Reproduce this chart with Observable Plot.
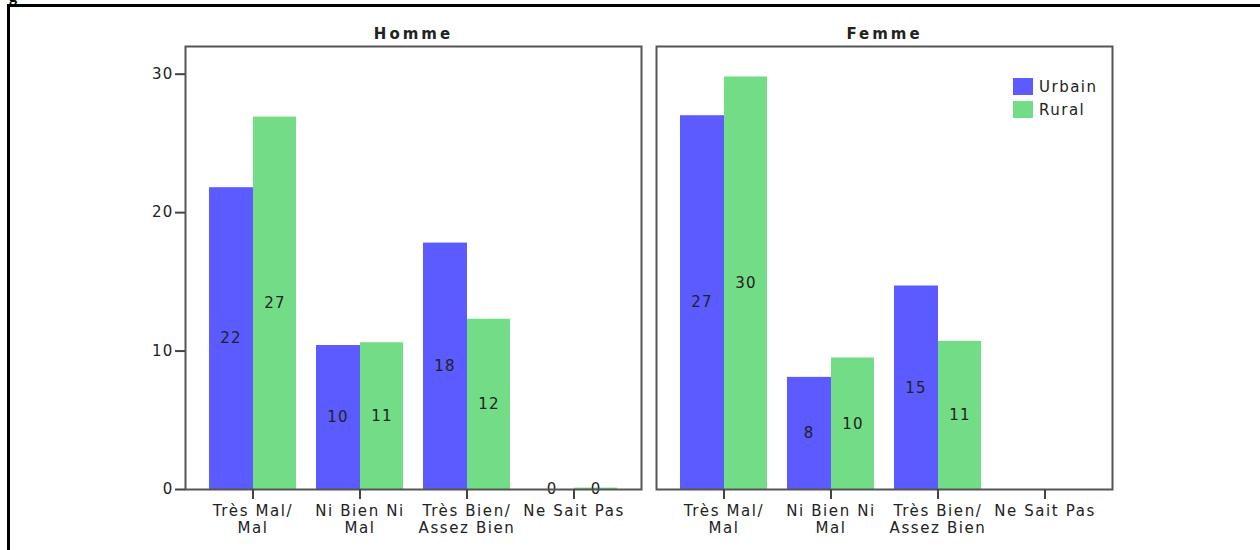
<!DOCTYPE html>
<html>
<head>
<meta charset="utf-8">
<script src="https://cdn.jsdelivr.net/npm/d3@7"></script>
<script src="https://cdn.jsdelivr.net/npm/@observablehq/plot@0.6"></script>
<style>
  html, body { margin: 0; padding: 0; background: #fff; }
  #wrap { position: relative; width: 1260px; height: 550px; overflow: hidden; font-family: "DejaVu Sans", sans-serif; }
  #docTop { position: absolute; left: 7px; top: 4px; width: 1253px; height: 0; border-top: 3px solid #000; }
  #docLeft { position: absolute; left: 7px; top: 4px; width: 0; height: 560px; border-left: 3px solid #000; }
  #gchar { position: absolute; left: 9px; top: -13px; font: bold 16px "Liberation Serif", serif; color: #000; }
  #chart { position: absolute; left: 0; top: 0; }
  #chart svg text { letter-spacing: 1.2px; }
  #chart g[aria-label="x-axis tick label"] text { letter-spacing: 1.6px; }
  #chart g[aria-label="fx-axis tick label"] text { letter-spacing: 3px; }
  #legend { position: absolute; left: 1013px; top: 75px; font: 15px "DejaVu Sans", sans-serif; color: #222; letter-spacing: 1.5px; }
  .item { display: flex; align-items: center; height: 23px; }
  .sw { width: 20px; height: 17px; margin-right: 6px; }
</style>
</head>
<body>
<div id="wrap">
  <div id="gchar">g</div>
  <div id="docTop"></div>
  <div id="docLeft"></div>
  <div id="chart"></div>
  <div id="legend"></div>
</div>
<script>
// ---- data ----
const sexes = ["Homme", "Femme"];
const areas = ["Urbain", "Rural"];
const categories = ["Très Mal/Mal", "Ni Bien Ni Mal", "Très Bien/Assez Bien", "Ne Sait Pas"];
const tickLabels = ["Très Mal/\nMal", "Ni Bien Ni\nMal", "Très Bien/\nAssez Bien", "Ne Sait Pas"];
const hommeUrbain = [21.8, 10.4, 17.8, 0];
const hommeRural  = [26.9, 10.6, 12.3, 0.1];
const femmeUrbain = [27.0, 8.1, 14.7, null];
const femmeRural  = [29.8, 9.5, 10.7, null];
const yTicks = [0, 10, 20, 30];
const colors = ["#5b5bff", "#72dd86"];

const series = {Homme: {Urbain: hommeUrbain, Rural: hommeRural}, Femme: {Urbain: femmeUrbain, Rural: femmeRural}};
const rows = [];
for (const s of sexes) for (const a of areas) categories.forEach((c, i) => {
  const v = series[s][a][i];
  if (v != null) rows.push({sex: s, area: a, cat: c, value: v});
});
const urb = rows.filter(d => d.area === "Urbain");
const rur = rows.filter(d => d.area === "Rural");
const half = 22;

const plot = Plot.plot({
  width: 1260,
  height: 550,
  marginTop: 46,
  marginBottom: 61,
  marginLeft: 185,
  marginRight: 148,
  style: {fontFamily: "DejaVu Sans, sans-serif", fontSize: "14px", color: "#222", background: "transparent"},
  fx: {domain: sexes, paddingInner: 0.032, paddingOuter: 0, label: null},
  x: {domain: categories, paddingInner: 0.185, paddingOuter: 0.204, label: null},
  y: {domain: [0, 32], label: null},
  color: {domain: areas, range: colors},
  marks: [
    Plot.barY(urb, {fx: "sex", x: "cat", y: "value", fill: "area", insetRight: half * 2 - 1}),
    Plot.barY(rur, {fx: "sex", x: "cat", y: "value", fill: "area", insetLeft: half * 2}),
    Plot.ruleY([0], {stroke: "#000", strokeWidth: 1}),
    Plot.text(urb, {fx: "sex", x: "cat", y: d => d.value / 2, text: d => String(Math.round(d.value)), dx: -half, fill: "#222", fontSize: 15}),
    Plot.text(rur, {fx: "sex", x: "cat", y: d => d.value / 2, text: d => String(Math.round(d.value)), dx: half, fill: "#222", fontSize: 15}),
    Plot.frame({stroke: "#555", strokeWidth: 2}),
    Plot.axisY({ticks: yTicks, tickSize: 10, tickPadding: 2, fontSize: 15, stroke: "#444", strokeWidth: 2, label: null}),
    Plot.axisX({tickSize: 10, tickPadding: 4, fontSize: 15, stroke: "#444", strokeWidth: 2, label: null,
      tickFormat: c => tickLabels[categories.indexOf(c)], lineHeight: 1.15}),
    Plot.axisFx({anchor: "top", tickSize: 0, tickPadding: 8, fontSize: 15, fontWeight: "bold", label: null})
  ]
});
document.getElementById("chart").appendChild(plot);

const legend = document.getElementById("legend");
areas.forEach((a, i) => {
  const it = document.createElement("div");
  it.className = "item";
  it.innerHTML = `<div class="sw" style="background:${colors[i]}"></div><span>${a}</span>`;
  legend.appendChild(it);
});
</script>
</body>
</html>
